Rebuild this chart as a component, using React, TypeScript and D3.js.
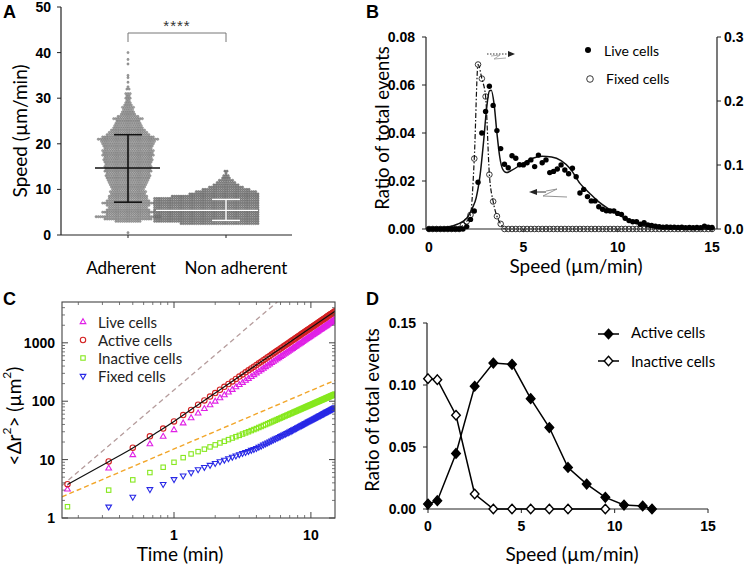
import React from 'react';
import * as d3 from 'd3';

// ---------------- Panel A data ----------------
const categoriesA = ['Adherent', 'Non adherent'];
const adherentRowSpeed = [0.5,
  3, 3.5, 4, 4.5, 5, 5.5, 6, 6.5, 7, 7.5,
  8, 8.5, 9, 9.5, 10, 10.5, 11, 11.5, 12, 12.5,
  13, 13.5, 14, 14.5, 15, 15.5, 16, 16.5, 17, 17.5,
  18, 18.5, 19, 19.5, 20, 20.5, 21, 21.5, 22, 22.5,
  23, 23.5, 24, 24.5, 25, 25.5, 26, 26.5, 27, 27.5,
  28, 28.5, 29, 29.5, 30, 30.5, 31,
  32, 32.5, 33.5, 34.5, 35, 37.5, 38.5, 40];
const adherentRowCount = [1,
  12, 22, 30, 20, 24, 20, 18, 20, 24, 20,
  18, 18, 16, 17, 15, 16, 17, 18, 19, 20,
  21, 20, 22, 21, 22, 21, 22, 23, 22, 24,
  23, 24, 22, 23, 24, 25, 28, 24, 20, 18,
  16, 14, 13, 12, 11, 14, 10, 7, 6, 5,
  6, 4, 3, 2, 3, 2, 3,
  2, 1, 1, 1, 1, 1, 1, 1];
const nonAdherentRowSpeed = [2.5, 3, 3.5, 4, 4.5, 5, 5.5, 6, 6.5, 7, 7.5, 8, 8.5, 9, 9.5, 10, 10.5, 11, 11.5, 12, 12.5, 13, 13.5, 14];
const nonAdherentRowCount = [36, 48, 48, 48, 48, 48, 48, 48, 48, 48, 48, 48, 40, 32, 28, 22, 16, 12, 9, 7, 4, 3, 1, 2];
const adherentStats = [7.2, 14.7, 22.0];      // mean - SD, mean, mean + SD
const nonAdherentStats = [3.2, 5.4, 7.8];
const ticksA = [0, 10, 20, 30, 40, 50];

// ---------------- Panel B data ----------------
const liveRatio = [
  0, 0, 0, 0, 0, 0, 0, 0, 0, 0,
  0.001, 0.004, 0.0075, 0.0195, 0.040, 0.049, 0.0595, 0.0515, 0.041, 0.0335,
  0.027, 0.0255, 0.0305, 0.0295, 0.0268, 0.0267, 0.0276, 0.0288, 0.026, 0.0308,
  0.0276, 0.0288, 0.0235, 0.024, 0.025, 0.0267, 0.0246, 0.023, 0.0253, 0.0218,
  0.015, 0.0165, 0.0135, 0.0117, 0.0117, 0.0093, 0.0082, 0.0076, 0.0075, 0.0075,
  0.0065, 0.0061, 0.0045, 0.0035, 0.003, 0.003, 0.002, 0.0026, 0.0017, 0.0015,
  0.0012, 0.001, 0.0008, 0.0009, 0.0007, 0.0008, 0.0006, 0.0007, 0.0005, 0.0006,
  0.0005, 0.0006, 0.0005, 0.0012, 0.0007, 0.0006];
const fixedRatio = [
  0, 0, 0, 0, 0, 0, 0, 0, 0, 0.006,
  0.012, 0.022, 0.11, 0.257, 0.235, 0.207, 0.085, 0.043, 0.020, 0.008,
  0, 0, 0, 0, 0, 0, 0, 0, 0, 0,
  0, 0, 0, 0, 0, 0, 0, 0, 0, 0,
  0, 0, 0, 0, 0, 0, 0, 0, 0, 0,
  0, 0, 0, 0, 0, 0, 0, 0, 0, 0,
  0, 0, 0, 0, 0, 0, 0, 0, 0, 0,
  0, 0, 0, 0, 0, 0];
const binWidthB = 0.2;
const liveFitSpeed = [0, 0.5, 1.0, 1.5, 2.0, 2.3, 2.5, 2.7, 2.9, 3.05, 3.2, 3.3, 3.45, 3.6, 3.75, 3.9, 4.1, 4.4, 5.0, 5.5, 6.0, 6.5, 7.0, 7.5, 8.0, 8.5, 9.0, 9.5, 10.0, 10.5, 11.0, 11.5, 12.0, 12.5, 15];
const liveFitRatio = [0, 0.0003, 0.0008, 0.002, 0.0045, 0.0087, 0.013, 0.022, 0.037, 0.050, 0.0575, 0.0578, 0.052, 0.040, 0.030, 0.025, 0.0235, 0.0245, 0.0275, 0.0295, 0.0303, 0.030, 0.0285, 0.025, 0.019, 0.015, 0.0113, 0.0085, 0.0062, 0.004, 0.0024, 0.0012, 0.0004, 0, 0];
const ticksBLeft = [0, 0.02, 0.04, 0.06, 0.08];
const ticksBRight = [0, 0.1, 0.2, 0.3];
const ticksBX = [0, 5, 10, 15];

// ---------------- Panel C data ----------------
const frameStepMin = 1 / 6;
const activeMSD = [3.8, 9.3, 16, 25, 34, 45, 58, 71, 87,
  103, 120, 138, 157, 176, 197, 218, 241, 264, 288,
  312, 338, 364, 390, 418, 446, 475, 505, 535, 566,
  597, 629, 662, 696, 730, 764, 800, 835, 872, 909,
  946, 985, 1023, 1062, 1102, 1143, 1183, 1225, 1267, 1309,
  1352, 1396, 1440, 1485, 1530, 1575, 1621, 1668, 1715, 1762,
  1810, 1859, 1908, 1957, 2007, 2058, 2109, 2160, 2212, 2264,
  2317, 2370, 2424, 2478, 2532, 2587, 2643, 2699, 2755, 2811,
  2869, 2926, 2984, 3043, 3102, 3161, 3220, 3281, 3341, 3402,
  3464];
const liveMSD = [3.1, 7.1, 12.0, 18.4, 24.8, 32.2, 42, 51.4, 62,
  74, 86, 99, 113, 127, 142, 157, 174, 190, 207,
  225, 243, 262, 281, 301, 321, 342, 364, 385, 408,
  430, 453, 477, 501, 526, 550, 576, 601, 628, 654,
  681, 709, 737, 765, 793, 823, 852, 882, 912, 942,
  973, 1005, 1037, 1069, 1102, 1134, 1167, 1201, 1235, 1269,
  1303, 1338, 1374, 1409, 1445, 1482, 1518, 1555, 1593, 1630,
  1668, 1706, 1745, 1784, 1823, 1863, 1903, 1943, 1984, 2024,
  2066, 2107, 2148, 2191, 2233, 2276, 2318, 2362, 2406, 2449,
  2494];
const inactiveMSD = [1.56, 3.0, 4.5, 6.0, 7.4, 9.0, 10.8, 12.5, 13.7,
  15.1, 16.5, 17.9, 19.3, 20.6, 22.0, 23.4, 24.7, 26.0, 27.4,
  28.7, 30.0, 31.4, 32.7, 34.0, 35.5, 36.9, 38.4, 39.8, 41.3,
  42.7, 44.2, 45.7, 47.1, 48.6, 50.1, 51.5, 53.0, 54.5, 56.0,
  57.4, 58.9, 60.4, 61.8, 63.3, 64.8, 66.3, 67.8, 69.2, 70.7,
  72.2, 73.7, 75.2, 76.6, 78.1, 79.6, 81.1, 82.6, 84.1, 85.6,
  87.0, 88.5, 90.0, 91.5, 93.0, 94.5, 96.0, 97.5, 99.0, 100.5,
  102.0, 103.5, 105.0, 106.4, 107.9, 109.4, 110.9, 112.4, 113.9, 115.4,
  116.9, 118.4, 119.9, 121.4, 122.9, 124.4, 125.9, 127.4, 128.9, 130.5,
  132.0];
const fixedMSD = [0.85, 1.56, 2.3, 3.1, 3.8, 4.6, 5.3, 6.0, 6.8,
  7.44, 8.07, 8.69, 9.31, 9.91, 10.5, 11.1, 11.7, 12.3, 12.9,
  13.4, 14.0, 14.6, 15.1, 15.7, 16.5, 17.2, 18.0, 18.8, 19.5,
  20.3, 21.1, 21.9, 22.7, 23.5, 24.3, 25.1, 25.9, 26.7, 27.5,
  28.4, 29.2, 30.0, 30.9, 31.8, 32.7, 33.6, 34.5, 35.5, 36.4,
  37.3, 38.3, 39.2, 40.2, 41.1, 42.1, 43.0, 44.0, 45.0, 45.9,
  46.9, 47.9, 48.9, 49.9, 50.9, 51.9, 52.9, 53.9, 54.9, 55.9,
  56.9, 57.9, 59.0, 60.0, 61.0, 62.1, 63.1, 64.1, 65.2, 66.3,
  67.3, 68.4, 69.4, 70.5, 71.5, 72.6, 73.7, 74.8, 75.8, 76.9,
  78.0];
const activeFitTime = [0.1667, 0.333, 0.5, 0.667, 1, 1.5, 3, 6, 15];
const activeFitMSD = [3.75, 9.2, 15.8, 24.5, 45, 87, 264, 800, 3464];
const ballisticRefTime = [0.152, 5.68];
const ballisticRefMSD = [3.6, 5000];
const diffusiveRefTime = [0.152, 15];
const diffusiveRefMSD = [2.31, 228];
const seriesC = ['Live cells', 'Active cells', 'Inactive cells', 'Fixed cells'];
const ticksCYLabels = [1, 10, 100, 1000];
const ticksCXLabels = [1, 10];

// ---------------- Panel D data ----------------
const activeSpeedD = [0, 0.5, 1.5, 2.5, 3.5, 4.5, 5.5, 6.5, 7.5, 8.5, 9.5, 10.5, 11.5, 12];
const activeRatioD = [0.004, 0.0067, 0.0448, 0.099, 0.1177, 0.1167, 0.089, 0.0657, 0.0335, 0.0201, 0.0094, 0.0032, 0.0024, 0];
const inactiveSpeedD = [0, 0.5, 1.5, 2.5, 3.5, 4.5, 5.5, 6.5, 7.5, 9.5];
const inactiveRatioD = [0.1051, 0.1043, 0.0756, 0.0121, 0, 0, 0, 0, 0, 0];
const ticksDY = [0, 0.05, 0.1, 0.15];
const ticksDX = [0, 5, 10, 15];

const TXT = "Lato, 'Open Sans', sans-serif";
const TICK = "'Liberation Sans', Arial, sans-serif";

const fmt2 = d3.format('.2f');

function PanelA() {
  const yA = d3.scaleLinear().domain([0, 50]).range([235, 7]);
  const xA = d3.scalePoint<string>().domain(categoriesA).range([128, 226]);
  const dx = 2.2;
  const swarm = (speeds: number[], counts: number[], cx: number, maxRight?: number) => {
    const pts: [number, number][] = [];
    speeds.forEach((s, k) => {
      const n = counts[k];
      let x0 = cx - ((n - 1) / 2) * dx;
      const xEnd = x0 + (n - 1) * dx;
      if (maxRight !== undefined && xEnd > maxRight) x0 -= xEnd - maxRight;
      for (let j = 0; j < n; j++) pts.push([x0 + j * dx, yA(s)]);
    });
    return pts;
  };
  const cxAd = xA('Adherent')!;
  const cxNon = xA('Non adherent')!;
  const ad = swarm(adherentRowSpeed, adherentRowCount, cxAd);
  const non = swarm(nonAdherentRowSpeed, nonAdherentRowCount, cxNon, cxNon + 32);
  return (
    <g>
      <text x={3} y={18} fontFamily={TICK} fontWeight="bold" fontSize={18}>A</text>
      {/* y axis */}
      <line x1={61} x2={61} y1={yA(50)} y2={yA(0)} stroke="#222" strokeWidth={1.2} />
      {ticksA.map(t => (
        <g key={t}>
          <line x1={57} x2={61} y1={yA(t)} y2={yA(t)} stroke="#222" />
          <text x={51} y={yA(t)} textAnchor="end" dominantBaseline="central" fontFamily={TICK} fontWeight="bold" fontSize={14}>{t}</text>
        </g>
      ))}
      <line x1={61} x2={292} y1={yA(0)} y2={yA(0)} stroke="#222" strokeWidth={1.2} />
      {categoriesA.map(c => (
        <line key={c} x1={xA(c)} x2={xA(c)} y1={yA(0)} y2={yA(0) + 3} stroke="#222" />
      ))}
      <text transform={`translate(19,131) rotate(-90)`} textAnchor="middle" dominantBaseline="central" fontFamily={TXT} fontSize={19}>Speed (µm/min)</text>
      <text x={cxAd - 7} y={274} textAnchor="middle" fontFamily={TXT} fontSize={17}>Adherent</text>
      <text x={cxNon + 10} y={274} textAnchor="middle" fontFamily={TXT} fontSize={17}>Non adherent</text>
      {/* swarm */}
      {ad.map((p, i) => <circle key={'a' + i} cx={p[0]} cy={p[1]} r={1.15} fill="#a3a3a3" stroke="#555" strokeWidth={0.35} />)}
      {non.map((p, i) => <circle key={'n' + i} cx={p[0]} cy={p[1]} r={1.15} fill="#8a8a8a" stroke="#444" strokeWidth={0.35} />)}
      {/* error bars */}
      <g stroke="#111" strokeWidth={1.6}>
        <line x1={cxAd} x2={cxAd} y1={yA(adherentStats[0])} y2={yA(adherentStats[2])} />
        <line x1={cxAd - 33} x2={cxAd + 32} y1={yA(adherentStats[1])} y2={yA(adherentStats[1])} />
        <line x1={cxAd - 14} x2={cxAd + 14} y1={yA(adherentStats[0])} y2={yA(adherentStats[0])} />
        <line x1={cxAd - 14} x2={cxAd + 14} y1={yA(adherentStats[2])} y2={yA(adherentStats[2])} />
      </g>
      <g stroke="#fff" strokeWidth={1.4}>
        <line x1={cxNon} x2={cxNon} y1={yA(nonAdherentStats[0])} y2={yA(nonAdherentStats[2])} />
        <line x1={cxNon - 70} x2={cxNon + 32} y1={yA(nonAdherentStats[1])} y2={yA(nonAdherentStats[1])} />
        <line x1={cxNon - 14} x2={cxNon + 14} y1={yA(nonAdherentStats[0])} y2={yA(nonAdherentStats[0])} />
        <line x1={cxNon - 14} x2={cxNon + 14} y1={yA(nonAdherentStats[2])} y2={yA(nonAdherentStats[2])} />
      </g>
      {/* significance bracket */}
      <path d={`M${cxAd},42 V33 H${cxNon} V42`} fill="none" stroke="#777" strokeWidth={1} />
      <text x={(cxAd + cxNon) / 2} y={31} textAnchor="middle" fontFamily={TICK} fontSize={15} fill="#333" letterSpacing={1}>****</text>
    </g>
  );
}

function PanelB() {
  const xB = d3.scaleLinear().domain([0, 15]).range([429, 712]);
  const yB = d3.scaleLinear().domain([0, 0.08]).range([229, 37]);
  const yBR = d3.scaleLinear().domain([0, 0.3]).range([229, 37]);
  const speeds = liveRatio.map((_, i) => i * binWidthB);
  const fitLine = d3.line<number>().x((_, i) => xB(liveFitSpeed[i])).y(d => yB(d)).curve(d3.curveMonotoneX);
  const fixedIdx = fixedRatio.map((_, i) => i).filter(i => speeds[i] >= 1.6 && speeds[i] <= 4.0);
  const fixedLine = d3.line<number>().x(i => xB(speeds[i])).y(i => yBR(fixedRatio[i])).curve(d3.curveMonotoneX);
  return (
    <g>
      <text x={366} y={18} fontFamily={TICK} fontWeight="bold" fontSize={18}>B</text>
      <line x1={426} x2={426} y1={37} y2={229} stroke="#222" strokeWidth={1.2} />
      {ticksBLeft.map(t => (
        <g key={t}>
          <line x1={422} x2={426} y1={yB(t)} y2={yB(t)} stroke="#222" />
          <text x={415} y={yB(t)} textAnchor="end" dominantBaseline="central" fontFamily={TICK} fontWeight="bold" fontSize={14}>{fmt2(t)}</text>
        </g>
      ))}
      <line x1={426} x2={717} y1={229} y2={229} stroke="#222" strokeWidth={1.2} />
      {ticksBX.map(t => (
        <g key={t}>
          <line x1={xB(t)} x2={xB(t)} y1={229} y2={232} stroke="#222" />
          <text x={xB(t)} y={247} textAnchor="middle" dominantBaseline="central" fontFamily={TICK} fontWeight="bold" fontSize={14}>{t}</text>
        </g>
      ))}
      <line x1={717} x2={717} y1={37} y2={229} stroke="#222" strokeWidth={1.2} />
      {ticksBRight.map(t => (
        <g key={t}>
          <line x1={717} x2={721} y1={yBR(t)} y2={yBR(t)} stroke="#222" />
          <text x={724} y={yBR(t)} dominantBaseline="central" fontFamily={TICK} fontWeight="bold" fontSize={14}>{t.toFixed(1)}</text>
        </g>
      ))}
      <text transform={`translate(382,128) rotate(-90)`} textAnchor="middle" dominantBaseline="central" fontFamily={TXT} fontSize={18.5}>Ratio of total events</text>
      <text x={576} y={273} textAnchor="middle" fontFamily={TXT} fontSize={19}>Speed (µm/min)</text>
      {/* fixed cells (right axis) */}
      {fixedRatio.map((v, i) => (
        <circle key={'f' + i} cx={xB(speeds[i])} cy={yBR(v)} r={2.8} fill="none" stroke="#222" strokeWidth={0.9} />
      ))}
      <path d={fixedLine(fixedIdx) || ''} fill="none" stroke="#111" strokeWidth={1.2} strokeDasharray="5,2,1.5,2" />
      {/* live cells fit */}
      <path d={fitLine(liveFitRatio) || ''} fill="none" stroke="#111" strokeWidth={1.5} />
      {liveRatio.map((v, i) => (
        <circle key={'l' + i} cx={xB(speeds[i])} cy={yB(v)} r={2.7} fill="#000" />
      ))}
      {/* arrows */}
      <line x1={487} x2={510} y1={54} y2={54} stroke="#333" strokeWidth={1} strokeDasharray="1.5,1.5" />
      <polygon points="508,51 515,54 508,57" fill="#222" />
      <polyline points="491,56 500,55 494,59 506,58" fill="none" stroke="#999" strokeWidth={0.8} />
      <line x1={532} x2={546} y1={192} y2={192} stroke="#333" strokeWidth={1} />
      <polygon points="529,192 537,189 537,195" fill="#222" />
      <polyline points="546,191 557,189 543,196 567,197" fill="none" stroke="#888" strokeWidth={0.9} />
      {/* legend */}
      <circle cx={588} cy={50} r={3} fill="#000" />
      <text x={604} y={50} dominantBaseline="central" fontFamily={TXT} fontSize={14}>Live cells</text>
      <circle cx={590} cy={79} r={3.3} fill="none" stroke="#222" strokeWidth={0.9} />
      <text x={606} y={78} dominantBaseline="central" fontFamily={TXT} fontSize={14}>Fixed cells</text>
    </g>
  );
}

function PanelC() {
  const xC = d3.scaleLog().domain([0.152, 15]).range([62, 335]);
  const yC = d3.scaleLog().domain([1, 5000]).range([518, 302]);
  const times = activeMSD.map((_, i) => (i + 1) * frameStepMin);
  const colors = ['#e020e6', '#d42222', '#86e81e', '#2828e6'];
  const triUp = d3.symbol(d3.symbolTriangle, 14)() || '';
  const sq = 4.4;
  const inY = (v: number) => v >= 1 && v <= 5000;
  const xMinor: number[] = [];
  [0.1, 1, 10].forEach(dec => { for (let k = 2; k <= 9; k++) xMinor.push(dec * k); });
  const yMinor: number[] = [];
  [1, 10, 100, 1000].forEach(dec => { for (let k = 2; k <= 9; k++) yMinor.push(dec * k); });
  const xd = xC.domain();
  const xMinorIn = xMinor.filter(v => v > xd[0] && v < xd[1]);
  const yMinorIn = yMinor.filter(v => v > 1 && v < 5000);
  const fitLine = d3.line<number>().x((_, i) => xC(activeFitTime[i])).y(d => yC(d)).curve(d3.curveMonotoneX);
  const refLine = (ts: number[], vs: number[]) => `M${xC(ts[0])},${yC(vs[0])}L${xC(ts[1])},${yC(vs[1])}`;
  const mk = (kind: number, x: number, y: number, key: string, c: string) => {
    if (kind === 0) return <path key={key} d={triUp} transform={`translate(${x},${y})`} fill="none" stroke={c} strokeWidth={1.1} />;
    if (kind === 1) return <circle key={key} cx={x} cy={y} r={2.7} fill="none" stroke={c} strokeWidth={1.1} />;
    if (kind === 2) return <rect key={key} x={x - sq / 2} y={y - sq / 2} width={sq} height={sq} fill="none" stroke={c} strokeWidth={1.1} />;
    return <path key={key} d={triUp} transform={`translate(${x},${y}) rotate(180)`} fill="none" stroke={c} strokeWidth={1.1} />;
  };
  const seriesVals = [liveMSD, activeMSD, inactiveMSD, fixedMSD];
  const drawOrder = [3, 2, 0, 1];
  return (
    <g>
      <text x={3} y={305} fontFamily={TICK} fontWeight="bold" fontSize={18}>C</text>
      <defs>
        <clipPath id="clipC"><rect x={62} y={302} width={273} height={216} /></clipPath>
      </defs>
      <g clipPath="url(#clipC)">
        <path d={refLine(ballisticRefTime, ballisticRefMSD)} stroke="#b59c9c" strokeWidth={1.3} strokeDasharray="5,3.5" fill="none" />
        <path d={refLine(diffusiveRefTime, diffusiveRefMSD)} stroke="#f2a62a" strokeWidth={1.4} strokeDasharray="5,3" fill="none" />
        {drawOrder.map(s => (
          <g key={s}>
            {seriesVals[s].map((v, i) => inY(v) ? mk(s, xC(times[i]), yC(v), `${s}-${i}`, colors[s]) : null)}
          </g>
        ))}
        <path d={fitLine(activeFitMSD) || ''} fill="none" stroke="#111" strokeWidth={1.2} />
      </g>
      <rect x={62} y={302} width={273} height={216} fill="none" stroke="#444" strokeWidth={1.1} />
      {/* ticks */}
      {xMinorIn.map(v => (
        <g key={'xm' + v} stroke="#555" strokeWidth={0.8}>
          <line x1={xC(v)} x2={xC(v)} y1={518} y2={515} />
          <line x1={xC(v)} x2={xC(v)} y1={302} y2={305} />
        </g>
      ))}
      {ticksCXLabels.map(v => (
        <g key={'xM' + v}>
          <line x1={xC(v)} x2={xC(v)} y1={518} y2={512} stroke="#444" />
          <line x1={xC(v)} x2={xC(v)} y1={302} y2={308} stroke="#444" />
          <text x={xC(v)} y={535} textAnchor="middle" dominantBaseline="central" fontFamily={TICK} fontWeight="bold" fontSize={14}>{v}</text>
        </g>
      ))}
      {yMinorIn.map(v => (
        <g key={'ym' + v} stroke="#555" strokeWidth={0.8}>
          <line x1={62} x2={65} y1={yC(v)} y2={yC(v)} />
          <line x1={335} x2={332} y1={yC(v)} y2={yC(v)} />
        </g>
      ))}
      {ticksCYLabels.map(v => (
        <g key={'yM' + v}>
          <line x1={62} x2={68} y1={yC(v)} y2={yC(v)} stroke="#444" />
          <line x1={335} x2={329} y1={yC(v)} y2={yC(v)} stroke="#444" />
          <text x={55} y={yC(v)} textAnchor="end" dominantBaseline="central" fontFamily={TICK} fontWeight="bold" fontSize={14}>{v}</text>
        </g>
      ))}
      <text x={180} y={553} textAnchor="middle" dominantBaseline="central" fontFamily={TXT} fontSize={19}>Time (min)</text>
      <text transform={`translate(13,416) rotate(-90)`} textAnchor="middle" dominantBaseline="central" fontFamily={TXT} fontSize={19}>
        &lt;Δr<tspan dy={-7} fontSize={12}>2</tspan><tspan dy={7}>&gt; (µm</tspan><tspan dy={-7} fontSize={12}>2</tspan><tspan dy={7}>)</tspan>
      </text>
      {/* legend */}
      {seriesC.map((name, k) => {
        const ly = [322, 340, 358, 376][k];
        return (
          <g key={name}>
            {mk(k, 83, ly, 'lg' + k, colors[k])}
            <text x={98} y={ly} dominantBaseline="central" fontFamily={TXT} fontSize={15} fill="#222">{name}</text>
          </g>
        );
      })}
    </g>
  );
}

function PanelD() {
  const xD = d3.scaleLinear().domain([0, 15]).range([428, 708]);
  const yD = d3.scaleLinear().domain([0, 0.15]).range([509, 323]);
  const diamond = (x: number, y: number, filled: boolean, key: string) => (
    <path key={key} d={`M${x},${y - 4.8}L${x + 4.3},${y}L${x},${y + 4.8}L${x - 4.3},${y}Z`} fill={filled ? '#000' : '#fff'} stroke="#000" strokeWidth={1.4} />
  );
  const line = d3.line<number>().x(d => xD(d[0])).y(d => yD(d[1]));
  const activePts = activeSpeedD.map((s, i) => [s, activeRatioD[i]]);
  const inactivePts = inactiveSpeedD.map((s, i) => [s, inactiveRatioD[i]]);
  return (
    <g>
      <text x={366} y={305} fontFamily={TICK} fontWeight="bold" fontSize={18}>D</text>
      <line x1={427} x2={427} y1={323} y2={510} stroke="#222" strokeWidth={1.2} />
      {ticksDY.map(t => (
        <g key={t}>
          <line x1={423} x2={427} y1={yD(t)} y2={yD(t)} stroke="#222" />
          <text x={416} y={yD(t)} textAnchor="end" dominantBaseline="central" fontFamily={TICK} fontWeight="bold" fontSize={14}>{fmt2(t)}</text>
        </g>
      ))}
      <line x1={427} x2={708} y1={509} y2={509} stroke="#222" strokeWidth={1.2} />
      {ticksDX.map(t => (
        <g key={t}>
          <line x1={xD(t)} x2={xD(t)} y1={509} y2={513} stroke="#222" />
          <text x={xD(t)} y={526} textAnchor="middle" dominantBaseline="central" fontFamily={TICK} fontWeight="bold" fontSize={14}>{t}</text>
        </g>
      ))}
      <text transform={`translate(372,410) rotate(-90)`} textAnchor="middle" dominantBaseline="central" fontFamily={TXT} fontSize={18.5}>Ratio of total events</text>
      <text x={572} y={553} textAnchor="middle" dominantBaseline="central" fontFamily={TXT} fontSize={19}>Speed (µm/min)</text>
      <path d={line(inactivePts as any) || ''} fill="none" stroke="#000" strokeWidth={1.5} />
      <path d={line(activePts as any) || ''} fill="none" stroke="#000" strokeWidth={1.5} />
      {inactivePts.map((p, i) => diamond(xD(p[0]), yD(p[1]), false, 'i' + i))}
      {activePts.map((p, i) => diamond(xD(p[0]), yD(p[1]), true, 'a' + i))}
      {/* legend */}
      <line x1={598} x2={619} y1={334} y2={334} stroke="#000" strokeWidth={1.5} />
      {diamond(608.5, 334, true, 'lg1')}
      <text x={631} y={332} dominantBaseline="central" fontFamily={TXT} fontSize={15}>Active cells</text>
      <line x1={598} x2={619} y1={361} y2={361} stroke="#000" strokeWidth={1.5} />
      {diamond(608.5, 361, false, 'lg2')}
      <text x={631} y={361} dominantBaseline="central" fontFamily={TXT} fontSize={15}>Inactive cells</text>
    </g>
  );
}

export default function App() {
  return (
    <div style={{ position: 'absolute', left: 0, top: 0 }}>
      <svg width={747} height={564} style={{ display: 'block', background: '#fff' }}>
        <PanelA />
        <PanelB />
        <PanelC />
        <PanelD />
      </svg>
    </div>
  );
}
